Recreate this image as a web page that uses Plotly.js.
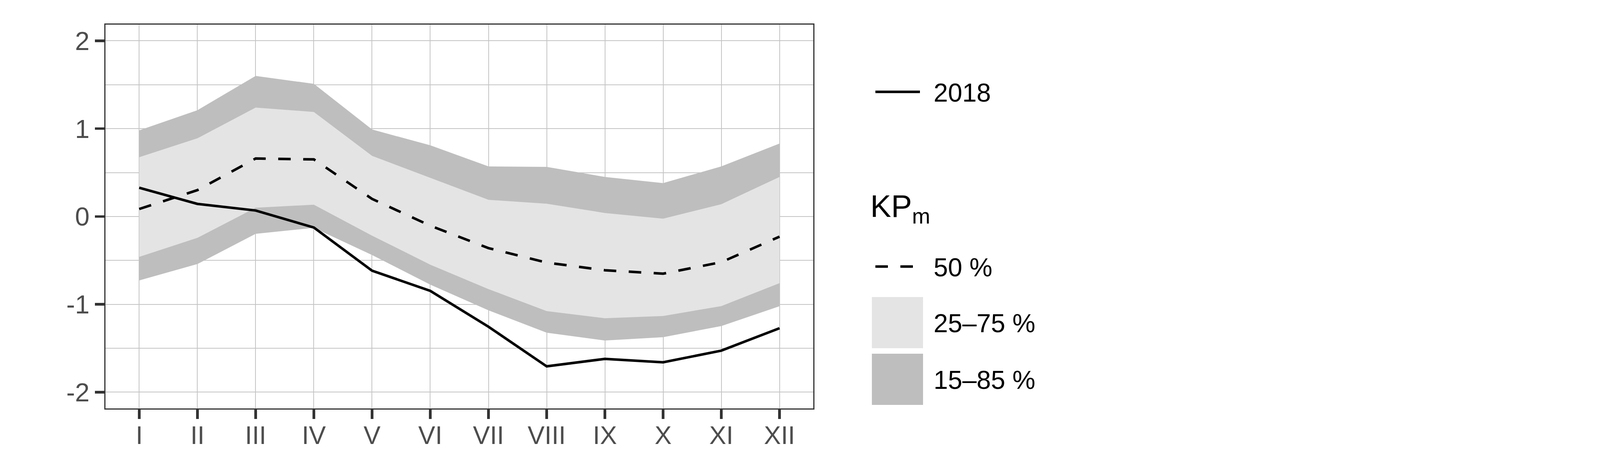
<!DOCTYPE html>
<html><head><meta charset="utf-8">
<script src="https://cdn.plot.ly/plotly-3.0.1.min.js"></script>
<style>html,body{margin:0;padding:0;background:#fff}</style>
</head><body>
<div id="chart" style="width:4200px;height:1200px"></div>
<script>
// ---- data ----
const months = ['I','II','III','IV','V','VI','VII','VIII','IX','X','XI','XII'];
const p85 = [0.98, 1.21, 1.60, 1.51, 0.99, 0.81, 0.57, 0.565, 0.45, 0.38, 0.57, 0.83];
const p75 = [0.675, 0.89, 1.24, 1.19, 0.69, 0.44, 0.19, 0.145, 0.04, -0.025, 0.14, 0.45];
const p50 = [0.085, 0.30, 0.66, 0.65, 0.20, -0.105, -0.36, -0.525, -0.612, -0.651, -0.52, -0.23];
const p25 = [-0.46, -0.243, 0.10, 0.134, -0.218, -0.549, -0.827, -1.077, -1.158, -1.133, -1.02, -0.759];
const p15 = [-0.728, -0.541, -0.197, -0.129, -0.439, -0.776, -1.068, -1.323, -1.412, -1.374, -1.247, -1.022];
const y2018 = [0.327, 0.143, 0.068, -0.126, -0.617, -0.847, -1.255, -1.706, -1.621, -1.660, -1.527, -1.272];
const yTickVals = [-2, -1, 0, 1, 2];
const yTickText = ['-2', '-1', '0', '1', '2'];
const seriesName = '2018';
const legendTitle = 'KP<sub>m</sub>';
const bandLabels = ['50 %', '25\u201375 %', '15\u201385 %'];

// ---- styling ----
const W = 4200, H = 1200;
const ml = 270, mr = 2118, mt = 63, mb = 155;
const pw = W - ml - mr, ph = H - mt - mb;
const px = x => (x - ml) / pw;
const py = y => (H - mb - y) / ph;
const FONT = 'Liberation Sans, Arial, sans-serif';
const LIGHT = '#e4e4e4', DARK = '#bebebe', GRID = '#c4c4c4', AX = '#333333';
const LW = 6.5;

const traces = [
  {x: months, y: p15, type: 'scatter', mode: 'lines', line: {width: 0}, hoverinfo: 'skip', showlegend: false},
  {x: months, y: p85, type: 'scatter', mode: 'lines', line: {width: 0}, fill: 'tonexty', fillcolor: DARK, showlegend: false},
  {x: months, y: p25, type: 'scatter', mode: 'lines', line: {width: 0}, hoverinfo: 'skip', showlegend: false},
  {x: months, y: p75, type: 'scatter', mode: 'lines', line: {width: 0}, fill: 'tonexty', fillcolor: LIGHT, showlegend: false},
  {x: months, y: p50, type: 'scatter', mode: 'lines', line: {color: '#000', width: LW, dash: '32px,32px'}, showlegend: false},
  {x: months, y: y2018, type: 'scatter', mode: 'lines', line: {color: '#000', width: LW}, showlegend: false}
];

const textAnn = (txt, x, y, size) => ({
  text: txt, xref: 'paper', yref: 'paper', x: px(x), y: py(y),
  xanchor: 'left', yanchor: 'middle', showarrow: false,
  font: {family: FONT, size: size, color: '#000'}
});

const layout = {
  width: W, height: H,
  margin: {l: ml, r: mr, t: mt, b: mb, pad: 0},
  paper_bgcolor: '#fff', plot_bgcolor: '#fff',
  showlegend: false,
  font: {family: FONT},
  xaxis: {
    type: 'category', categoryorder: 'array', categoryarray: months,
    range: [-0.58, 11.58], fixedrange: true,
    showgrid: true, gridcolor: GRID, gridwidth: 2,
    showline: true, linecolor: AX, linewidth: 3.3, mirror: true,
    ticks: 'outside', ticklen: 24, tickwidth: 6.5, tickcolor: AX,
    ticklabelstandoff: -14,
    tickfont: {family: FONT, size: 65, color: '#4d4d4d'},
    zeroline: false
  },
  yaxis: {
    range: [-2.185, 2.184], fixedrange: true,
    tickmode: 'array', tickvals: yTickVals, ticktext: yTickText,
    showgrid: true, gridcolor: GRID, gridwidth: 2,
    minor: {dtick: 0.5, tick0: 0, showgrid: true, gridcolor: GRID, gridwidth: 2, ticks: ''},
    showline: true, linecolor: AX, linewidth: 3.3, mirror: true,
    ticks: 'outside', ticklen: 24, tickwidth: 6.5, tickcolor: AX,
    tickfont: {family: FONT, size: 67, color: '#4d4d4d'},
    zeroline: false
  },
  shapes: [
    {type: 'line', xref: 'paper', yref: 'paper', x0: px(2241), x1: px(2355), y0: py(235), y1: py(235), line: {color: '#000', width: LW}},
    {type: 'line', xref: 'paper', yref: 'paper', x0: px(2241), x1: px(2355), y0: py(682), y1: py(682), line: {color: '#000', width: LW, dash: '32px,32px'}},
    {type: 'rect', xref: 'paper', yref: 'paper', x0: px(2232), x1: px(2363), y0: py(760), y1: py(891), line: {width: 0}, fillcolor: LIGHT},
    {type: 'rect', xref: 'paper', yref: 'paper', x0: px(2232), x1: px(2363), y0: py(905), y1: py(1036), line: {width: 0}, fillcolor: DARK}
  ],
  annotations: [
    textAnn(seriesName, 2388, 237, 66),
    textAnn(legendTitle, 2226, 533, 80),
    textAnn(bandLabels[0], 2388, 684, 66),
    textAnn(bandLabels[1], 2388, 827, 66),
    textAnn(bandLabels[2], 2388, 972, 66)
  ]
};

Plotly.newPlot('chart', traces, layout, {staticPlot: true, displayModeBar: false});
</script>
</body></html>
